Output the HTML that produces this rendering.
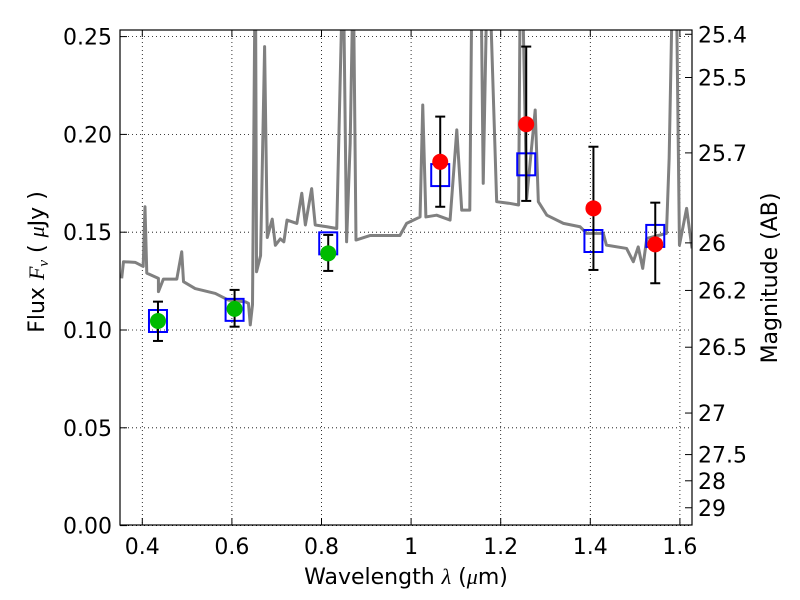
<!DOCTYPE html>
<html><head><meta charset="utf-8"><style>
body{margin:0;background:#fff;}
svg{display:block;font-family:"DejaVu Sans","Liberation Sans",sans-serif;}
</style></head><body>
<svg id="chart" width="800" height="600"></svg>
<script>
const specWl=[.354,.358,.384,.402,.406,.41,.436,.436,.447,.477,.488,.492,.518,.563,.592,.630,.637,.641,.646,.651,.653,.655,.664,.673,.679,.690,.697,.708,.716,.723,.745,.756,.764,.778,.786,.812,.834,.845,.850,.856,.864,.869,.872,.877,.908,.975,.99,1.02,1.026,1.033,1.057,1.087,1.102,1.113,1.131,1.135,1.14,1.157,1.161,1.168,1.178,1.191,1.221,1.240,1.243,1.25,1.258,1.277,1.284,1.303,1.340,1.377,1.392,1.429,1.436,1.481,1.496,1.507,1.517,1.526,1.570,1.576,1.582,1.593,1.599,1.615,1.627];
const specF=[.1264,.1349,.1346,.1325,.163,.1291,.1264,.1196,.126,.126,.140,.1247,.1212,.1187,.1153,.1144,.1136,.1026,.113,.26,.26,.1298,.138,.2449,.1473,.1567,.1433,.1466,.1451,.1562,.1545,.1699,.1537,.1723,.1537,.1528,.1519,.26,.26,.1451,.1954,.26,.26,.146,.1483,.1483,.1545,.1578,.215,.1578,.1587,.1562,.2023,.1613,.1613,.26,.26,.26,.175,.26,.26,.1656,.1647,.1639,.26,.26,.1673,.2125,.1656,.1587,.1545,.1528,.1494,.1494,.1434,.1417,.1349,.1425,.1315,.1468,.1494,.1878,.26,.26,.1434,.1622,.1417];
const greenWl=[.435,.606,.815];
const greenF=[.1046,.1108,.1392];
const greenHi=[.1145,.1205,.1486];
const greenLo=[.0944,.1017,.1302];
const redWl=[1.065,1.257,1.407,1.545];
const redF=[.186,.2052,.1622,.1438];
const redHi=[.2091,.2449,.1937,.1651];
const redLo=[.163,.166,.1307,.1239];
const boxWl=[.435,.606,.815,1.065,1.257,1.407,1.545];
const boxF=[.1046,.1103,.1443,.1792,.1847,.1455,.1481];
const xTicks=[0.4,0.6,0.8,1,1.2,1.4,1.6];
const yTicks=[0,0.05,0.10,0.15,0.20,0.25];
const yTickLabels=["0.00","0.05","0.10","0.15","0.20","0.25"];
const magTicks=[25.4,25.5,25.7,26,26.2,26.5,27,27.5,28,29];

const L=120,R=692,T=30,B=525;
const X=v=>142.3+(v-0.4)*448;
const Y=v=>525.6-v*1956;
const svg=document.getElementById('chart');
const NS='http://www.w3.org/2000/svg';
function mk(tag,at,parent){const e=document.createElementNS(NS,tag);for(const k in at)e.setAttribute(k,at[k]);(parent||svg).appendChild(e);return e;}
const defs=mk('defs',{});const cp=mk('clipPath',{id:'cp'},defs);mk('rect',{x:L,y:T,width:R-L,height:B-T},cp);

xTicks.forEach(t=>{const g=mk('line',{x1:X(t),x2:X(t),y1:T,y2:B,stroke:'#000','stroke-width':0.8,'stroke-dasharray':'1,3'});

});
yTicks.forEach(t=>{const g=mk('line',{x1:L,x2:R,y1:Y(t),y2:Y(t),stroke:'#000','stroke-width':0.8,'stroke-dasharray':'1,3'});

});

const sp=mk('polyline',{points:specWl.map((w,i)=>X(w)+','+Y(specF[i])).join(' '),fill:'none',stroke:'#808080','stroke-width':3,'clip-path':'url(#cp)','stroke-linejoin':'round'});



boxWl.forEach((w,i)=>{const b=mk('rect',{x:X(w)-9,y:Y(boxF[i])-11,width:18,height:22,fill:'none',stroke:'#0000ff','stroke-width':2});

});

function pts(ws,fs,hi,lo,col,name){ws.forEach((w,i)=>{const x=X(w);
const g=mk('g',{});


mk('line',{x1:x,x2:x,y1:Y(hi[i]),y2:Y(lo[i]),stroke:'#000','stroke-width':2},g);
mk('line',{x1:x-5,x2:x+5,y1:Y(hi[i]),y2:Y(hi[i]),stroke:'#000','stroke-width':2},g);
mk('line',{x1:x-5,x2:x+5,y1:Y(lo[i]),y2:Y(lo[i]),stroke:'#000','stroke-width':2},g);
mk('circle',{cx:x,cy:Y(fs[i]),r:8,fill:col},g);});}
pts(greenWl,greenF,greenHi,greenLo,'#00bb00','hst-data-point');
pts(redWl,redF,redHi,redLo,'#ff0000','nir-data-point');

const fr=mk('rect',{x:L,y:T,width:R-L,height:B-T,fill:'none',stroke:'#000','stroke-width':1.2});



xTicks.forEach(t=>{const x=X(t);mk('line',{x1:x,x2:x,y1:B,y2:B-7,stroke:'#000'});mk('line',{x1:x,x2:x,y1:T,y2:T+7,stroke:'#000'});
const tx=mk('text',{x:x,y:554,'font-size':22,'text-anchor':'middle'});tx.textContent=String(t);

});
yTicks.forEach((t,i)=>{const y=Y(t);mk('line',{x1:L,x2:L+7,y1:y,y2:y,stroke:'#000'});
const tx=mk('text',{x:112,y:y+8,'font-size':22,'text-anchor':'end'});tx.textContent=yTickLabels[i];

});
magTicks.forEach(m=>{const y=Y(Math.pow(10,(23.9-m)/2.5));mk('line',{x1:R,x2:R-7,y1:y,y2:y,stroke:'#000'});
const tx=mk('text',{x:698,y:y+8,'font-size':22});tx.textContent=String(m);

});

const xt=mk('text',{x:406,y:584,'font-size':22,'text-anchor':'middle'});
xt.innerHTML='Wavelength  <tspan font-style="italic" font-family="Liberation Serif,serif">λ</tspan> (<tspan font-style="italic" font-family="Liberation Serif,serif">μ</tspan>m)';


const yt=mk('text',{transform:'translate(44,262) rotate(-90)','font-size':22,'text-anchor':'middle'});
yt.innerHTML='Flux  <tspan font-style="italic" font-family="Liberation Serif,serif">F<tspan font-size="15" dy="4">ν</tspan></tspan><tspan dy="-4">  (  </tspan><tspan font-style="italic" font-family="Liberation Serif,serif">μ</tspan>Jy )';


const rt=mk('text',{transform:'translate(777,278) rotate(-90)','font-size':22,'text-anchor':'middle'});
rt.textContent='Magnitude (AB)';


</script>
</body></html>
